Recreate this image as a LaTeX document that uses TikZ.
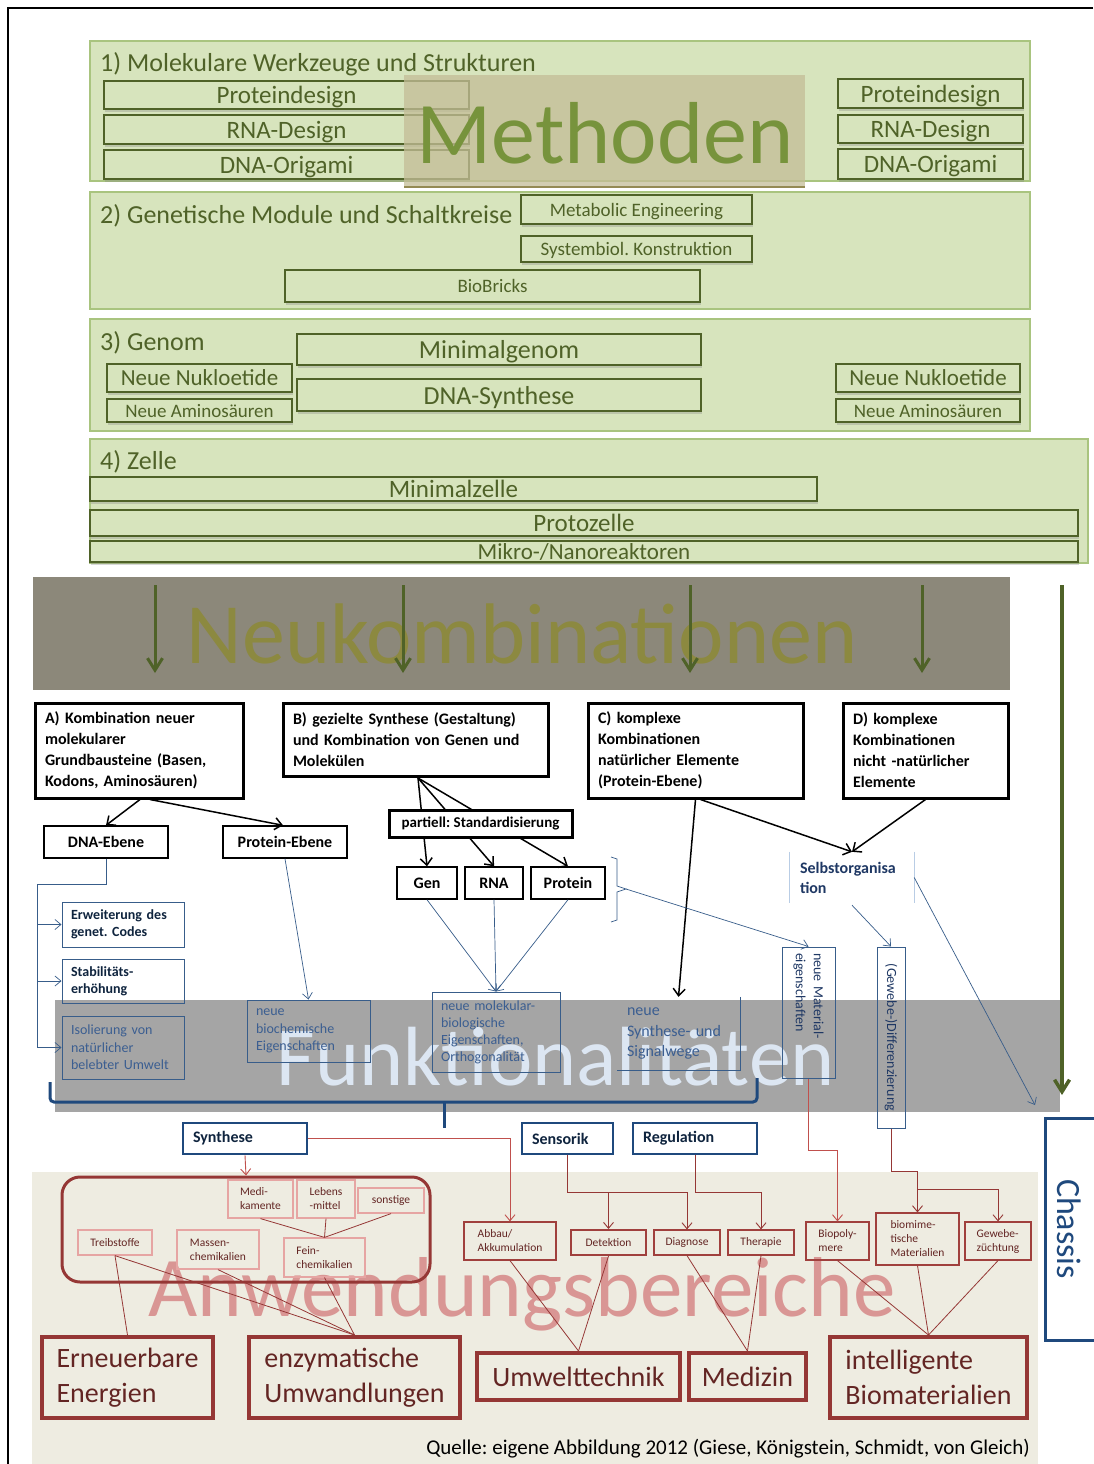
\documentclass[tikz,border=0pt]{standalone}
\usepackage{fontspec}
\setmainfont{Carlito}
\usetikzlibrary{arrows.meta,shadows}
\definecolor{grnfill}{HTML}{D7E4BD}
\definecolor{grnline}{HTML}{A9C47F}
\definecolor{olivec}{HTML}{4F6228}
\definecolor{methfill}{HTML}{C4BD97}
\definecolor{methtext}{HTML}{77933C}
\definecolor{methline}{HTML}{948A54}
\definecolor{neuband}{HTML}{8C887A}
\definecolor{neutext}{HTML}{8C8940}
\definecolor{funkband}{HTML}{A5A5A5}
\definecolor{funktext}{HTML}{DCE6F2}
\definecolor{navy}{HTML}{1F3864}
\definecolor{navyd}{HTML}{0F243E}
\definecolor{bluel}{HTML}{385D8A}
\definecolor{bluet}{HTML}{3B5E91}
\definecolor{hdblue}{HTML}{1F497D}
\definecolor{selbl}{HTML}{B9CDE5}
\definecolor{beige}{HTML}{EEECE1}
\definecolor{anwtext}{HTML}{D99694}
\definecolor{dred}{HTML}{953735}
\definecolor{redtext}{HTML}{632523}
\definecolor{pinkl}{HTML}{E6A5A3}
\definecolor{redl}{HTML}{C0504D}
\definecolor{redm}{HTML}{A0403D}
\newcommand\fs[2]{\fontsize{#1}{#2}\selectfont}
\newcommand\RB[7]{\node[#6,minimum width={#3-#1},minimum height={#4-#2}] (#5) at ({(#1+#3)/2},{(#2+#4)/2}) {#7};}
\tikzset{
 secbox/.style={fill=grnfill, draw=grnline, line width=1.2pt},
 gbox/.style={draw=olivec, line width=1.5pt, fill=grnfill, text=olivec, inner sep=0pt, text depth=0pt,
   drop shadow={shadow xshift=1pt, shadow yshift=-2.5pt, opacity=.3}},
 sectitle/.style={anchor=base west, text=olivec, font=\fs{26}{30}, inner sep=0pt},
 bigtext/.style={anchor=base, inner sep=0pt},
 abox/.style={draw=black, line width=3pt, fill=white, font=\bfseries\fs{16}{21}, align=left, inner xsep=10pt, inner ysep=0pt, text width=#1},
 kbox/.style={draw=black, line width=1.4pt, fill=white, font=\bfseries\fs{16}{20}, inner sep=0pt},
 blarr/.style={draw=black, line width=1.5pt, -{Straight Barb[length=7pt,width=12pt]}},
 grarr/.style={draw=olivec, line width=3pt, -{Straight Barb[length=12pt,width=15pt]}},
 bbox/.style={draw=bluel, line width=1pt, align=left, inner ysep=0pt, inner xsep=9pt, text width=#1},
 bline/.style={draw=bluel, line width=0.7pt},
 barr/.style={bline, -{Straight Barb[length=6pt,width=10pt]}},
 hbox/.style={draw=hdblue, line width=2.5pt, fill=white, font=\bfseries\fs{16}{20}, text=navyd, align=left, inner ysep=0pt, inner xsep=10pt, text width=#1},
 rbox/.style={draw=pinkl, line width=1.2pt, text=redtext, font=\fs{11.5}{14}, align=left, inner sep=0pt},
 rboxd/.style={draw=redm, line width=1.2pt, text=redtext, font=\fs{11.5}{14}, align=left, inner sep=0pt},
 rline/.style={draw=dred, line width=0.8pt},
 rarr/.style={draw=redl, line width=0.9pt, -{Straight Barb[length=6pt,width=10pt]}},
 bigr/.style={draw=dred, line width=4pt, text=redtext, font=\fs{28}{35}, align=left, inner ysep=0pt},
}
\begin{document}
\frenchspacing
\begin{tikzpicture}[x=1pt,y=-1pt]
\useasboundingbox (0,0) rectangle (1093,1464);
\fill[white] (0,0) rectangle (1093,1464);
\draw[line width=1.5pt] (1093,8) -- (8,8) -- (8,1464);
% ---------- 1) ----------
\draw[secbox] (90,41) rectangle (1030,181);
\node[sectitle] (t1) at (100,71) {1) Molekulare Werkzeuge und Strukturen};
\RB{104}{81}{469}{109}{pd1}{gbox,font=\fs{25}{28}}{Proteindesign}
\RB{104}{115}{469}{144}{rd1}{gbox,font=\fs{25}{28}}{RNA-Design}
\RB{104}{150}{469}{179}{do1}{gbox,font=\fs{25}{28}}{DNA-Origami}
\RB{838}{79}{1023}{108}{pd2}{gbox,font=\fs{25}{28}}{Proteindesign}
\RB{838}{115}{1023}{143}{rd2}{gbox,font=\fs{25}{28}}{RNA-Design}
\RB{838}{149}{1023}{179}{do2}{gbox,font=\fs{25}{28}}{DNA-Origami}
\fill[methfill, opacity=.75] (404,75) rectangle (805,187);
\draw[methline, line width=1.5pt] (404,187) -- (805,187);
\node[bigtext, text=methtext, font=\fs{88}{90}] (meth) at (605,163) {Methoden};
% ---------- 2) ----------
\draw[secbox] (90,192) rectangle (1030,309);
\node[sectitle] (t2) at (100,223) {2) Genetische Module und Schaltkreise};
\RB{521}{195}{752}{224}{me}{gbox,font=\fs{19}{22}}{Metabolic Engineering}
\RB{521}{236}{752}{262}{sk}{gbox,font=\fs{19}{22}}{Systembiol. Konstruktion}
\RB{285}{270}{700}{302}{bb}{gbox,font=\fs{19}{22}}{BioBricks}
% ---------- 3) ----------
\draw[secbox] (90,319) rectangle (1030,431);
\node[sectitle] (t3) at (100,350) {3) Genom};
\RB{297}{334}{701}{365}{mg}{gbox,font=\fs{26}{29}}{Minimalgenom}
\RB{297}{379}{701}{411}{ds}{gbox,font=\fs{26}{29}}{DNA-Synthese}
\RB{107}{364}{292}{392}{nn1}{gbox,font=\fs{23}{26}}{Neue Nukloetide}
\RB{107}{399}{292}{422}{na1}{gbox,font=\fs{19}{22}}{Neue Aminosäuren}
\RB{836}{364}{1020}{392}{nn2}{gbox,font=\fs{23}{26}}{Neue Nukloetide}
\RB{836}{399}{1020}{422}{na2}{gbox,font=\fs{19}{22}}{Neue Aminosäuren}
% ---------- 4) ----------
\draw[secbox] (90,439) rectangle (1088,563);
\node[sectitle] (t4) at (100,469) {4) Zelle};
\RB{90}{477}{817}{501}{mz}{gbox,font=\fs{25}{27}}{Minimalzelle}
\RB{90}{510}{1078}{536}{pz}{gbox,font=\fs{25}{27}}{Protozelle}
\RB{90}{541}{1078}{562}{mn}{gbox,font=\fs{23}{25}}{Mikro-/Nanoreaktoren}
% ---------- Neukombinationen ----------
\fill[neuband] (33,577) rectangle (1010,690);
\node[bigtext, text=neutext, font=\fs{86}{90}] (neuk) at (522,663) {Neukombinationen};
\coordinate (g1a) at (155,585); \coordinate (g1b) at (155,673);
\coordinate (g2a) at (403,585); \coordinate (g2b) at (403,673);
\coordinate (g3a) at (690,585); \coordinate (g3b) at (690,673);
\coordinate (g4a) at (922,585); \coordinate (g4b) at (922,673);
\coordinate (g5a) at (1062,585); \coordinate (g5b) at (1062,1095);
\draw[grarr] (g1a) -- (g1b);
\draw[grarr] (g2a) -- (g2b);
\draw[grarr] (g3a) -- (g3b);
\draw[grarr] (g4a) -- (g4b);
% ---------- Funktionalitaeten ----------
\fill[funkband] (55,1000) rectangle (1060,1112);
\node[bigtext, text=funktext, font=\fs{84}{88}] (funk) at (556,1085) {Funktionalitäten};
\draw[grarr, line width=3.5pt] (g5a) -- (g5b);
% ---------- Anwendungsbereiche ----------
\fill[beige] (32,1172) rectangle (1038,1464);
\node[bigtext, text=anwtext, font=\fs{85}{90}] (anw) at (522,1316) {Anwendungsbereiche};
% ---------- A-D ----------
\RB{35}{703}{243}{798}{A}{abox=188pt}{A) Kombination neuer\\molekularer\\Grundbausteine (Basen,\\Kodons, Aminosäuren)}
\RB{283}{703}{548}{776}{B}{abox=245pt}{B) gezielte Synthese (Gestaltung)\\und Kombination von Genen und\\Molekülen}
\RB{588}{703}{803}{798}{C}{abox=195pt}{C) komplexe\\Kombinationen\\natürlicher Elemente\\(Protein-Ebene)}
\RB{843}{703}{1008}{798}{D}{abox=145pt}{D) komplexe\\Kombinationen\\nicht -natürlicher\\Elemente}
\RB{44}{826}{168}{858}{dnae}{kbox}{DNA-Ebene}
\RB{223}{826}{347}{858}{prote}{kbox}{Protein-Ebene}
\RB{397}{867}{457}{899}{gen}{kbox}{Gen}
\RB{465}{867}{523}{899}{rna}{kbox}{RNA}
\RB{531}{867}{605}{899}{prot}{kbox}{Protein}
\coordinate (bs) at (418,778);
\draw[blarr] (bs) -- (gen.north);
\draw[blarr] (bs) -- (rna.north);
\draw[blarr] (bs) -- (prot.north);
\RB{389}{810}{572}{837}{part}{kbox, line width=3pt, font=\bfseries\fs{15}{18}}{partiell: Standardisierung}
\node[font=\bfseries\fs{16}{20}, text=navy, align=left, text width=104pt, inner xsep=10pt, inner ysep=0pt, minimum height=51] (selb) at (852,877.5) {Selbstorganisa\\tion};
\draw[selbl, line width=1.2pt] (selb.north west) -- (selb.south west) (selb.north east) -- (selb.south east);
\node[font=\fs{16}{20.5}, text=bluet, align=left, text width=103pt, inner xsep=10pt, inner ysep=0pt, minimum height=73] (sig) at (678.5,1033.5) {neue\\Synthese- und\\Signalwege};
\draw[bline] (sig.north east) -- (sig.south east) -- (sig.south west);
\draw[blarr] ([xshift=1pt]A.south) -- (dnae.north);
\draw[blarr] ([xshift=11pt]A.south) -- ([xshift=-2pt]prote.north);
\draw[blarr] (C.south) -- (sig.north);
\draw[blarr] ([xshift=5pt]C.south) -- (selb.north);
\draw[blarr] (D.south) -- (selb.north);
% ---------- blue boxes ----------
\RB{62}{902}{184}{947}{erw}{bbox=104pt, font=\bfseries\fs{14}{17}, text=navyd}{Erweiterung des\\genet. Codes}
\RB{62}{959}{184}{1003}{stab}{bbox=104pt, font=\bfseries\fs{14}{17}, text=navyd}{Stabilitäts-\\erhöhung}
\RB{62}{1016}{184}{1079}{iso}{bbox=104pt, font=\fs{14}{17.5}, text=bluet}{Isolierung von\\natürlicher\\belebter Umwelt}
\RB{247}{1000}{370}{1062}{bioch}{bbox=105pt, font=\fs{14}{17.5}, text=bluet}{neue\\biochemische\\Eigenschaften}
\RB{432}{992}{560}{1072}{molb}{bbox=110pt, font=\fs{14}{17}, text=bluet}{neue molekular-\\biologische\\Eigenschaften,\\Orthogonalität}
\node[draw=bluel, line width=1pt, rotate=-90, minimum width=131, minimum height=53, inner sep=0pt, text width=119pt, align=left, font=\fs{14}{18}, text=navy] (matl) at (808.5,1012.5) {neue Material-\\eigenschaften};
\node[draw=bluel, line width=1pt, rotate=-90, minimum width=181, minimum height=28, inner sep=0pt, font=\fs{14}{17}, text=navy] (gew) at (891,1037.5) {(Gewebe-)Differenzierung};
\coordinate (lbus) at (37,884);
\draw[bline] (dnae.south) -- (dnae.south |- lbus) -- (lbus) -- (lbus |- iso.west);
\draw[barr] (lbus |- erw.west) -- (erw.west);
\draw[barr] (lbus |- stab.west) -- (stab.west);
\draw[barr] (lbus |- iso.west) -- (iso.west);
\draw[barr] (prote.south) -- (bioch.north);
\draw[barr] (gen.south) -- (molb.north);
\draw[barr] (rna.south) -- (molb.north);
\draw[barr] (prot.south) -- (molb.north);
\coordinate (brk) at (626,889);
\draw[bline] (611,857) -- (617,859) -- (617,886) -- (brk) -- (617,892) -- (617,920) -- (611,922);
\draw[barr] (brk) -- (matl.west);
\draw[barr] ([yshift=-2pt]selb.south) -- (gew.west);
\coordinate (fend) at (1035,1105);
\draw[barr] (selb.east) -- (fend);
% brace
\coordinate (brL) at (50,1082); \coordinate (brR) at (757,1078); \coordinate (brT) at (444,1128);
\draw[hdblue, line width=3pt, rounded corners=4pt] (brL) -- (50,1102) -- (757,1102) -- (brR);
\draw[hdblue, line width=3pt] (444,1102) -- (brT);
% chassis
\draw[hdblue, line width=3pt] (1098,1118) -- (1045,1118) -- (1045,1340) -- (1098,1340);
\node[rotate=-90, text=hdblue, font=\fs{34}{40}, inner sep=0pt] (chas) at (1069,1229) {Chassis};
% ---------- application ----------
\RB{183}{1123}{307}{1154}{synth}{hbox=104pt}{Synthese}
\RB{522}{1123}{613}{1154}{sens}{hbox=71pt}{Sensorik}
\RB{633}{1123}{757}{1154}{regu}{hbox=104pt}{Regulation}
\RB{62}{1177}{430}{1282}{grp}{draw=dred, line width=3pt, rounded corners=18pt}{}
\RB{228}{1180}{293}{1218}{medk}{rbox}{Medi-\\kamente}
\RB{297}{1180}{355}{1218}{lebm}{rbox}{Lebens\\-mittel}
\RB{358}{1188}{424}{1213}{sons}{rbox}{sonstige}
\RB{78}{1230}{152}{1255}{treib}{rbox}{Treibstoffe}
\RB{177}{1230}{259}{1269}{mass}{rbox}{Massen-\\chemikalien}
\RB{284}{1238}{365}{1277}{fein}{rbox}{Fein-\\chemikalien}
\RB{464}{1222}{556}{1260}{abb}{rboxd}{Abbau/\\Akkumulation}
\RB{571}{1230}{646}{1255}{det}{rboxd, line width=2pt}{Detektion}
\RB{654}{1230}{720}{1255}{dia}{rboxd}{Diagnose}
\RB{728}{1230}{794}{1255}{ther}{rboxd}{Therapie}
\RB{806}{1222}{869}{1260}{bpo}{rboxd}{Biopoly-\\mere}
\RB{876}{1213}{959}{1265}{bmm}{rboxd}{biomime-\\tische\\Materialien}
\RB{965}{1222}{1031}{1260}{gzu}{rboxd}{Gewebe-\\züchtung}
\RB{42}{1337}{213}{1418}{ern}{bigr}{Erneuerbare\\Energien}
\RB{249}{1337}{460}{1418}{enz}{bigr}{enzymatische\\Umwandlungen}
\RB{477}{1353}{680}{1400}{umw}{bigr}{Umwelttechnik}
\RB{689}{1353}{806}{1400}{medz}{bigr}{Medizin}
\RB{830}{1337}{1027}{1418}{ibm}{bigr}{intelligente\\Biomaterialien}
\coordinate (h1) at (0,1192);
\coordinate (h2) at (0,1150);
\coordinate (h3) at (0,1171);
\coordinate (h4) at (0,1189);
\draw[rarr] (synth.south) -- (grp.north);
\draw[rarr] (synth.east) -- (synth.east -| abb.north) -- (abb.north);
\draw[rarr, draw=dred] (sens.south) -- (sens.south |- h1) -- (dia.north |- h1) -- (dia.north);
\draw[rarr, draw=dred] (det.north |- h1) -- (det.north);
\draw[rarr, draw=dred] (regu.south) -- (regu.south |- h1) -- (ther.north |- h1) -- (ther.north);
\draw[rarr] (matl.east) -- (matl.east |- h2) -- (bpo.north |- h2) -- (bpo.north);
\draw[rarr, draw=dred] (gew.east) -- (gew.east |- h3) -- (bmm.north |- h3) -- (bmm.north);
\draw[rarr, draw=dred] (bmm.north |- h4) -- (gzu.north |- h4) -- (gzu.north);
\draw[rline] (medk.south) -- (fein.north);
\draw[rline] (lebm.south) -- (fein.north);
\draw[rline] (sons.south) -- (fein.north);
\draw[rline] (treib.south) -- (ern.north);
\draw[rline] (treib.south) -- (enz.north);
\draw[rline] (mass.south) -- (enz.north);
\draw[rline] (fein.south) -- (enz.north);
\draw[rline] (abb.south) -- (umw.north);
\draw[rline] (det.south) -- (umw.north);
\draw[rline] (dia.south) -- (medz.north);
\draw[rline] (ther.south) -- (medz.north);
\draw[rline] (bpo.south) -- (ibm.north);
\draw[rline] (bmm.south) -- (ibm.north);
\draw[rline] (gzu.south) -- (ibm.north);
\node[anchor=base east, font=\fs{21}{24}, inner sep=0pt] (quelle) at (1030,1454) {Quelle: eigene Abbildung 2012 (Giese, Königstein, Schmidt, von Gleich)};
\end{tikzpicture}
\end{document}
